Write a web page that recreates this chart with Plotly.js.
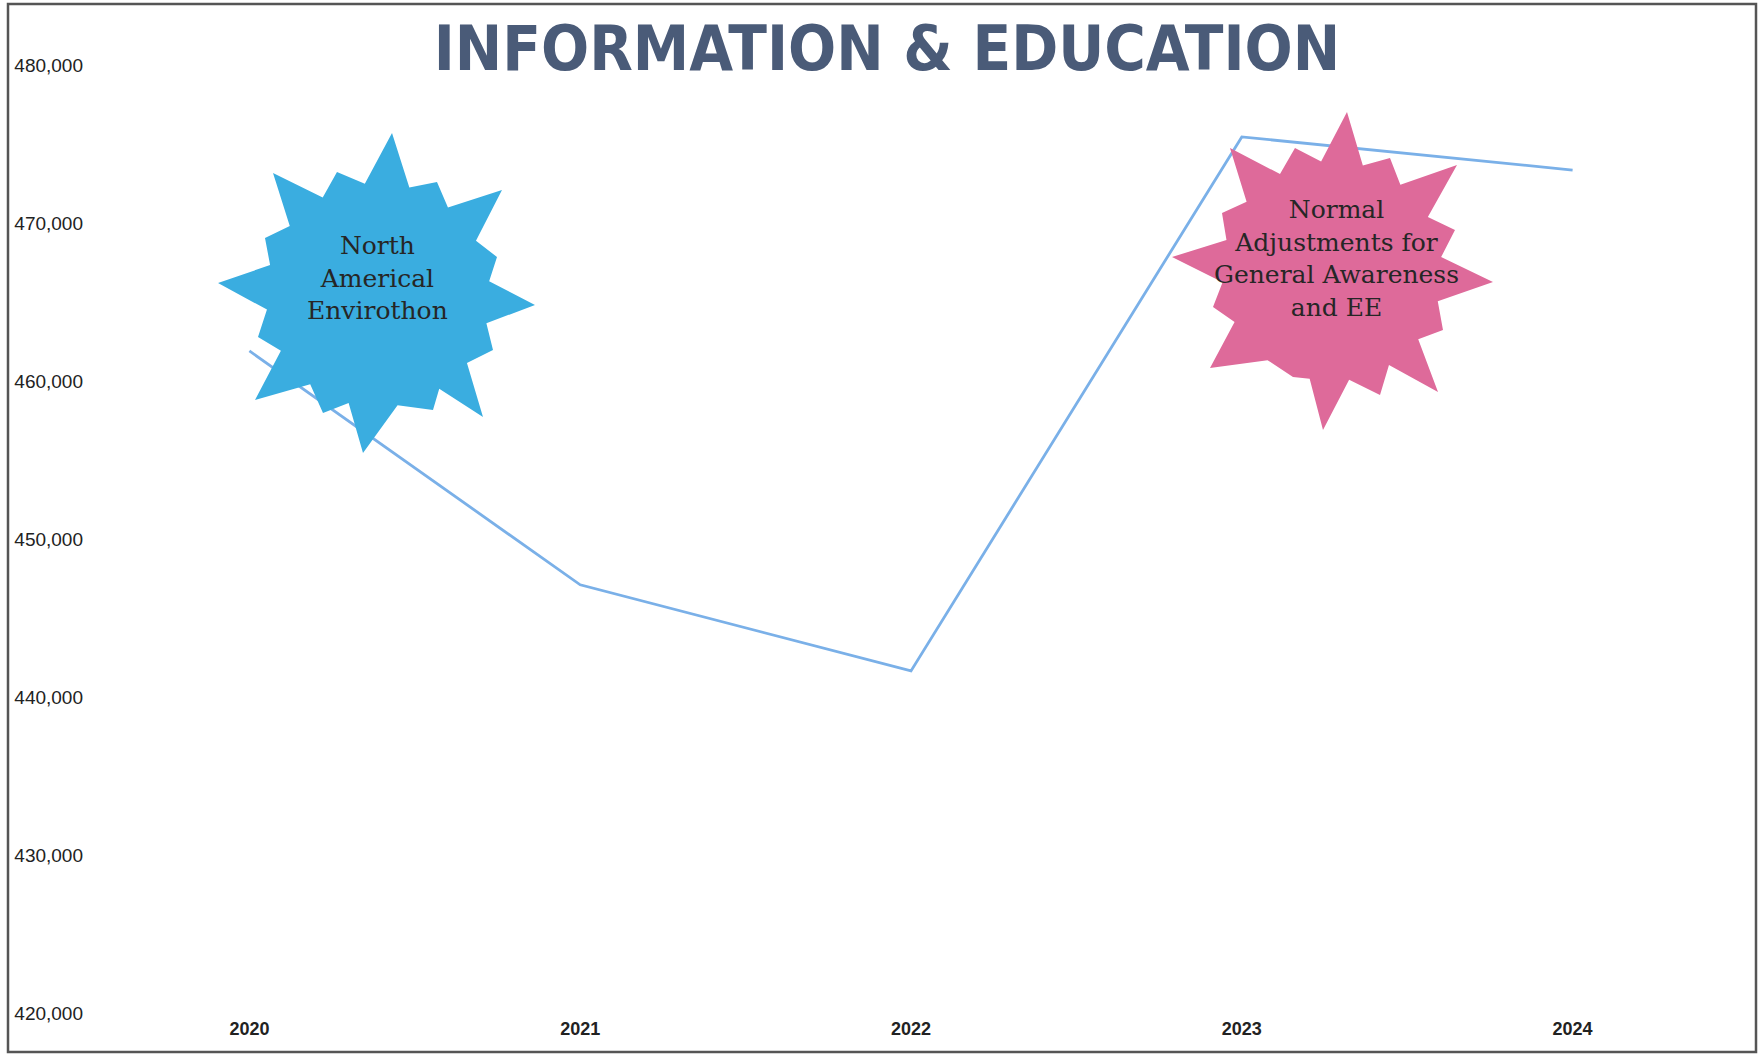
<!DOCTYPE html>
<html>
<head>
<meta charset="utf-8">
<script src="https://cdn.plot.ly/plotly-3.0.1.min.js"></script>
<style>
  html, body { margin: 0; padding: 0; background: #ffffff; }
  #chart { width: 1760px; height: 1061px; }
</style>
</head>
<body>
<div id="chart"></div>
<script>
// ---- Data ----
const years = ['2020', '2021', '2022', '2023', '2024'];
const budget = [461900, 447100, 441650, 475450, 473350];
const yTickValues = [420000, 430000, 440000, 450000, 460000, 470000, 480000];
const chartTitle = 'INFORMATION & EDUCATION';
const calloutLeft = 'North<br>Americal<br>Envirothon';
const calloutRight = 'Normal<br>Adjustments for<br>General Awareness<br>and EE';

// ---- Layout geometry ----
const W = 1760, H = 1061;
const M = { l: 84, r: 22, t: 65, b: 48 };
const PW = W - M.l - M.r, PH = H - M.t - M.b;
const px = x => (x - M.l) / PW;          // page pixel -> paper x
const py = y => 1 - (y - M.t) / PH;      // page pixel -> paper y

// decorative burst: spike tips in page pixels, valleys at inner radius
function burstPath(cx, cy, tips, rin) {
  const ang = tips.map(p => Math.atan2(p[1] - cy, p[0] - cx));
  let d = '';
  for (let i = 0; i < tips.length; i++) {
    const a1 = ang[i];
    let a2 = ang[(i + 1) % tips.length];
    if (a2 < a1) a2 += Math.PI * 2;
    const am = (a1 + a2) / 2;
    const vx = cx + rin * Math.cos(am), vy = cy + rin * Math.sin(am);
    d += (i === 0 ? 'M' : 'L') + px(tips[i][0]).toFixed(5) + ',' + py(tips[i][1]).toFixed(5);
    d += 'L' + px(vx).toFixed(5) + ',' + py(vy).toFixed(5);
  }
  return d + 'Z';
}

const blueTips = [
  [392,133],[437,182],[502,190],[497,257],[535,305],[493,350],[483,417],[433,410],
  [363,453],[323,413],[255,400],[258,337],[218,283],[265,238],[273,173],[337,172]
];
const pinkTips = [
  [1347,112],[1390,158],[1457,165],[1455,230],[1493,282],[1443,330],[1438,392],[1380,395],
  [1323,430],[1293,377],[1210,368],[1213,307],[1172,257],[1222,213],[1230,148],[1295,148]
];

const trace = {
  type: 'scatter',
  mode: 'lines',
  x: years,
  y: budget,
  line: { color: 'rgb(122,176,232)', width: 2.8 },
  hoverinfo: 'x+y'
};

const layout = {
  width: W, height: H,
  margin: M,
  paper_bgcolor: '#ffffff',
  plot_bgcolor: '#ffffff',
  showlegend: false,
  title: {
    text: chartTitle,
    font: { family: 'DejaVu Sans Condensed, DejaVu Sans', size: 63, color: '#4a5b78', weight: 'bold' },
    x: 887 / W, xanchor: 'center', xref: 'container',
    y: 1 - 48 / H, yanchor: 'middle', yref: 'container'
  },
  xaxis: {
    type: 'category',
    range: [-0.5, 4.5],
    showgrid: false, zeroline: false, showline: false, ticks: '',
    ticklabelstandoff: 3,
    tickfont: { family: 'Liberation Sans, Arial', size: 18, color: '#222', weight: 'bold' },
    fixedrange: true
  },
  yaxis: {
    range: [420000, 480000],
    tickvals: yTickValues,
    tickformat: ',',
    showgrid: false, zeroline: false, showline: false, ticks: '',
    tickfont: { family: 'Liberation Sans, Arial', size: 19, color: '#222' },
    fixedrange: true
  },
  shapes: [
    {
      type: 'rect', xref: 'paper', yref: 'paper', layer: 'above',
      x0: px(8), x1: px(1756), y0: py(1052), y1: py(4),
      line: { color: '#555555', width: 2.5 }, fillcolor: 'rgba(0,0,0,0)'
    },
    {
      type: 'path', xref: 'paper', yref: 'paper', layer: 'above',
      path: burstPath(378, 295, blueTips, 112),
      fillcolor: 'rgb(58,173,224)', line: { width: 0 }
    },
    {
      type: 'path', xref: 'paper', yref: 'paper', layer: 'above',
      path: burstPath(1332, 271, pinkTips, 110),
      fillcolor: 'rgb(222,106,154)', line: { width: 0 }
    }
  ],
  annotations: [
    {
      xref: 'paper', yref: 'paper', x: px(377), y: py(278),
      xanchor: 'center', yanchor: 'middle', showarrow: false,
      text: calloutLeft, align: 'center',
      font: { family: 'DejaVu Serif', size: 25, color: '#262626' }
    },
    {
      xref: 'paper', yref: 'paper', x: px(1336), y: py(258),
      xanchor: 'center', yanchor: 'middle', showarrow: false,
      text: calloutRight, align: 'center',
      font: { family: 'DejaVu Serif', size: 25, color: '#262626' }
    }
  ]
};

Plotly.newPlot('chart', [trace], layout, { displayModeBar: false, staticPlot: true });
</script>
</body>
</html>
